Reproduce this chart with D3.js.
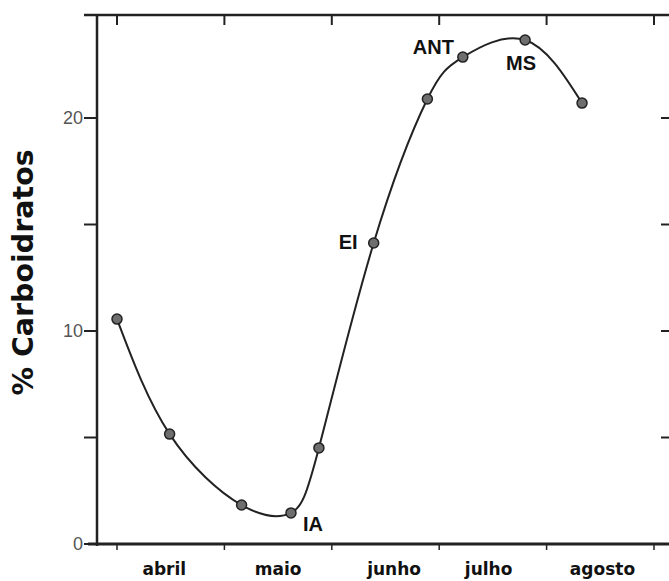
<!DOCTYPE html>
<html>
<head>
<meta charset="utf-8">
<script src="https://cdn.jsdelivr.net/npm/d3@7"></script>
<style>
  html, body { margin: 0; padding: 0; background: #fff; }
  svg { display: block; }
</style>
</head>
<body>
<svg id="chart" width="669" height="581"></svg>
<script>
// ---- data ----
// x: time in months since start of April (tick boundaries at integers)
const sampleTime = [0.0, 0.49, 1.16, 1.62, 1.88, 2.39, 2.89, 3.22, 3.80, 4.33];
const carbohydrate = [10.56, 5.16, 1.83, 1.46, 4.51, 14.13, 20.89, 22.86, 23.66, 20.70];
const months = ["abril", "maio", "junho", "julho", "agosto"];
const monthLabelTime = [0.44, 1.5, 2.58, 3.46, 4.52];
const monthTicks = [0, 1, 2, 3, 4, 5];
const yTicksLabeled = [0, 10, 20];
const yTicksAll = [0, 5, 10, 15, 20];
const stageLabels = [
  { text: "IA", idx: 3 },
  { text: "EI", idx: 5 },
  { text: "ANT", idx: 7 },
  { text: "MS", idx: 8 }
];
const yTitle = "% Carboidratos";

// ---- scales ----
const svg = d3.select("#chart");
const x = d3.scaleLinear().domain([0, 5]).range([117, 654]);
const y = d3.scaleLinear().domain([0, 20]).range([544, 118]);
const yTopVal = y.invert(15);

const ink = "#222";

// frame lines
svg.append("line").attr("x1", 84).attr("x2", 669).attr("y1", y(yTopVal)).attr("y2", y(yTopVal))
  .attr("stroke", ink).attr("stroke-width", 2.5);
svg.append("line").attr("x1", 88).attr("x2", 669).attr("y1", y(0)).attr("y2", y(0))
  .attr("stroke", ink).attr("stroke-width", 3);
svg.append("line").attr("x1", 97).attr("x2", 97).attr("y1", y(yTopVal)).attr("y2", y(0) + 2)
  .attr("stroke", ink).attr("stroke-width", 2.5);

// left axis ticks
svg.append("g").selectAll("line").data(yTicksAll).join("line")
  .attr("x1", 84).attr("x2", 97)
  .attr("y1", d => y(d)).attr("y2", d => y(d))
  .attr("stroke", ink).attr("stroke-width", 2);
svg.append("g").selectAll("text").data(yTicksLabeled).join("text")
  .attr("x", 83).attr("y", d => y(d) + 6)
  .attr("text-anchor", "end")
  .attr("font-family", "'Liberation Sans', Arial, sans-serif")
  .attr("font-size", 18)
  .attr("fill", "#555")
  .text(d => d);

// right side ticks (inward)
svg.append("g").selectAll("line").data(yTicksAll.filter(d => d > 0)).join("line")
  .attr("x1", 661).attr("x2", 669)
  .attr("y1", d => y(d)).attr("y2", d => y(d))
  .attr("stroke", ink).attr("stroke-width", 2);

// bottom ticks (outward, short) and top ticks (inward)
svg.append("g").selectAll("line").data(monthTicks).join("line")
  .attr("x1", d => x(d)).attr("x2", d => x(d))
  .attr("y1", y(0)).attr("y2", y(0) + 6)
  .attr("stroke", ink).attr("stroke-width", 1.5);
svg.append("g").selectAll("line").data(monthTicks).join("line")
  .attr("x1", d => x(d)).attr("x2", d => x(d))
  .attr("y1", y(yTopVal)).attr("y2", y(yTopVal) + 10)
  .attr("stroke", ink).attr("stroke-width", 2);

// month labels
svg.append("g").selectAll("text").data(months).join("text")
  .attr("x", (d, i) => x(monthLabelTime[i]))
  .attr("y", 575)
  .attr("text-anchor", "middle")
  .attr("font-family", "'DejaVu Sans', Verdana, sans-serif")
  .attr("font-weight", "bold")
  .attr("font-size", 17)
  .attr("fill", "#111")
  .text(d => d);

// y title
svg.append("text")
  .attr("transform", `translate(33, ${y(12.75)}) rotate(-90)`)
  .attr("text-anchor", "middle")
  .attr("font-family", "'DejaVu Sans', Verdana, sans-serif")
  .attr("font-weight", "bold")
  .attr("font-size", 28.5)
  .attr("fill", "#111")
  .text(yTitle);

// curve
const pts = sampleTime.map((t, i) => [t, carbohydrate[i]]);
const line = d3.line().x(d => x(d[0])).y(d => y(d[1])).curve(d3.curveNatural);
svg.append("path").attr("d", line(pts))
  .attr("fill", "none").attr("stroke", ink).attr("stroke-width", 2);

// points
svg.append("g").selectAll("circle").data(pts).join("circle")
  .attr("cx", d => x(d[0])).attr("cy", d => y(d[1])).attr("r", 5)
  .attr("fill", "#6e6e6e").attr("stroke", ink).attr("stroke-width", 1.5);

// stage labels
const offsets = { IA: [12, 18], EI: [-35, 6], ANT: [-50, -3], MS: [-19, 30] };
svg.append("g").selectAll("text").data(stageLabels).join("text")
  .attr("x", d => x(sampleTime[d.idx]) + offsets[d.text][0])
  .attr("y", d => y(carbohydrate[d.idx]) + offsets[d.text][1])
  .attr("font-family", "'Liberation Sans', Arial, sans-serif")
  .attr("font-weight", "bold")
  .attr("font-size", 20)
  .attr("fill", "#111")
  .text(d => d.text);
</script>
</body>
</html>
